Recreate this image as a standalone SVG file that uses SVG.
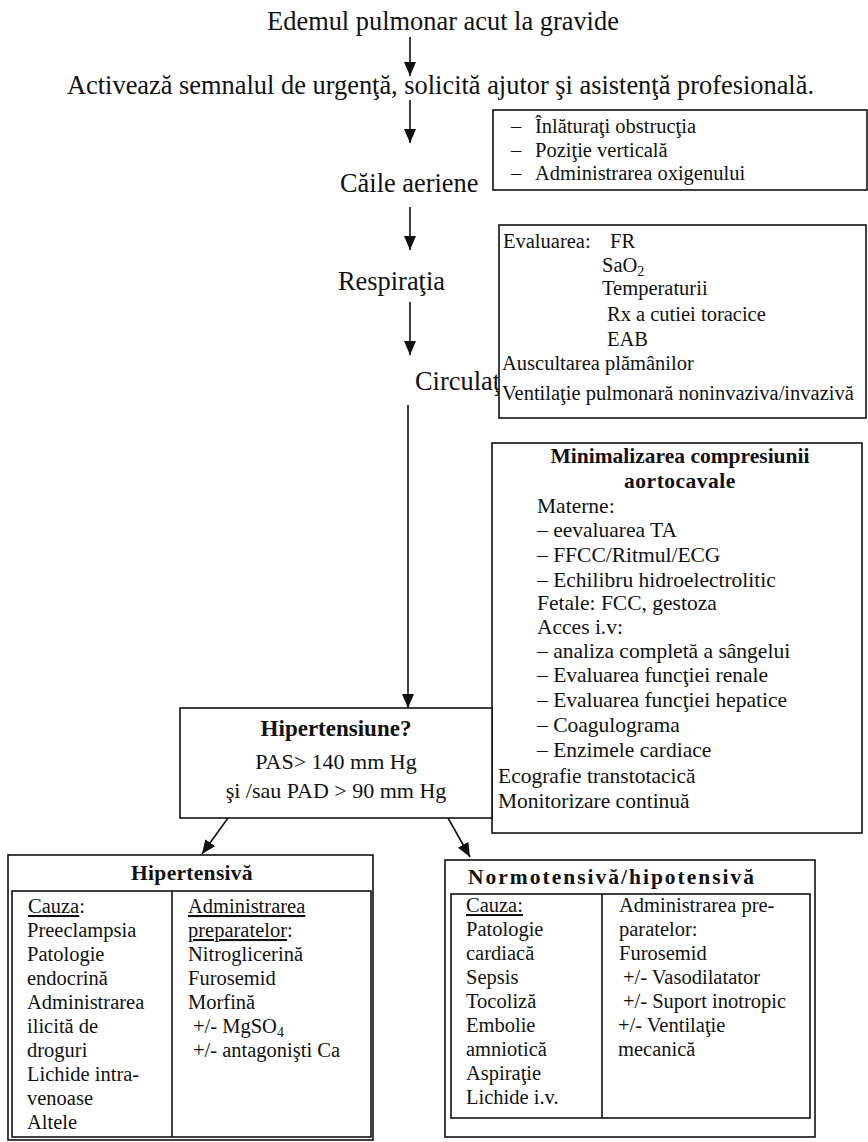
<svg xmlns="http://www.w3.org/2000/svg" width="868" height="1142" viewBox="0 0 868 1142">
<style>
text{font-family:"Liberation Serif","Times New Roman",serif;fill:#111}
.big{font-size:26.4px}
.t{font-size:20.5px}
.m{font-size:21.5px}
.b{font-weight:bold}
.box{fill:#fff;stroke:#111;stroke-width:1.6}
.ln{fill:none;stroke:#111;stroke-width:1.6}
.u{text-decoration:underline}
</style>
<defs>
<marker id="ah" viewBox="0 0 14 12" markerUnits="userSpaceOnUse" markerWidth="14" markerHeight="12" refX="14" refY="6" orient="auto">
<path d="M0,0 L14,6 L0,12 z" fill="#111"/>
</marker>
</defs>
<rect width="868" height="1142" fill="#fff"/>

<g id="connectors">
<line class="ln" x1="410" y1="37" x2="410" y2="76" marker-end="url(#ah)"/>
<line class="ln" x1="410" y1="100" x2="410" y2="143" marker-end="url(#ah)"/>
<line class="ln" x1="410" y1="207" x2="410" y2="250" marker-end="url(#ah)"/>
<line class="ln" x1="410" y1="302" x2="410" y2="355" marker-end="url(#ah)"/>
<line class="ln" x1="408" y1="405" x2="408" y2="708" marker-end="url(#ah)"/>
<line class="ln" x1="228" y1="818" x2="202" y2="854" marker-end="url(#ah)"/>
<line class="ln" x1="448" y1="818" x2="470" y2="857" marker-end="url(#ah)"/>
</g>

<g id="title"><text class="big" x="443" y="30" text-anchor="middle">Edemul pulmonar acut la gravide</text></g>
<g id="activeaza"><text class="big" x="67" y="94">Activează semnalul de urgenţă, solicită ajutor şi asistenţă profesională.</text></g>
<g id="caile"><text class="big" x="340" y="192">Căile aeriene</text></g>
<g id="respiratia"><text class="big" x="338" y="290">Respiraţia</text></g>
<g id="circulatia"><text class="big" x="415" y="390">Circulaţ</text></g>

<g id="box-caile">
<rect class="box" x="493" y="110" width="374" height="80"/>
<text class="t" x="511" y="133">–</text><text class="t" x="535" y="133">Înlăturaţi obstrucţia</text>
<text class="t" x="511" y="157">–</text><text class="t" x="535" y="157">Poziţie verticală</text>
<text class="t" x="511" y="180">–</text><text class="t" x="535" y="180">Administrarea oxigenului</text>
</g>

<g id="box-respiratia">
<rect class="box" x="499" y="225" width="367" height="193"/>
<text class="t" x="503" y="248">Evaluarea:</text><text class="t" x="610" y="248">FR</text>
<text class="t" x="602" y="272">SaO<tspan font-size="14" dy="4">2</tspan></text>
<text class="t" x="602" y="295">Temperaturii</text>
<text class="t" x="607" y="321">Rx a cutiei toracice</text>
<text class="t" x="607" y="346">EAB</text>
<text class="t" x="502" y="370">Auscultarea plămânilor</text>
<text class="t" x="502" y="400">Ventilaţie pulmonară noninvaziva/invazivă</text>
</g>

<g id="box-circulatia">
<rect class="box" x="492" y="443" width="370" height="390"/>
<text class="m b" x="680" y="463" text-anchor="middle">Minimalizarea compresiunii</text>
<text class="m b" x="680" y="488" text-anchor="middle" letter-spacing="0.5">aortocavale</text>
<text class="m" x="537" y="513">Materne:</text>
<text class="m" x="537" y="537">– eevaluarea TA</text>
<text class="m" x="537" y="562">– FFCC/Ritmul/ECG</text>
<text class="m" x="537" y="587">– Echilibru hidroelectrolitic</text>
<text class="m" x="537" y="610">Fetale: FCC, gestoza</text>
<text class="m" x="537" y="634">Acces i.v:</text>
<text class="m" x="537" y="658">– analiza completă a sângelui</text>
<text class="m" x="537" y="682">– Evaluarea funcţiei renale</text>
<text class="m" x="537" y="707">– Evaluarea funcţiei hepatice</text>
<text class="m" x="537" y="732">– Coagulograma</text>
<text class="m" x="537" y="757">– Enzimele cardiace</text>
<text class="m" x="498" y="783">Ecografie transtotacică</text>
<text class="m" x="498" y="808">Monitorizare continuă</text>
</g>

<g id="box-hipertensiune">
<rect class="box" x="180" y="708" width="312" height="110"/>
<text class="b" font-size="23" x="336" y="736" text-anchor="middle">Hipertensiune?</text>
<text font-size="22" x="336" y="769" text-anchor="middle">PAS&gt; 140 mm Hg</text>
<text font-size="22" x="336" y="798" text-anchor="middle">şi /sau PAD &gt; 90 mm Hg</text>
</g>

<g id="box-hipertensiva">
<rect class="box" x="8" y="855" width="365" height="285"/>
<rect class="box" x="12" y="891" width="359" height="246"/>
<line class="ln" x1="172" y1="891" x2="172" y2="1137"/>
<text class="m b" x="192" y="880" text-anchor="middle" letter-spacing="0.3">Hipertensivă</text>
<text class="t" x="28" y="913"><tspan class="u">Cauza</tspan>:</text>
<text class="t" x="27" y="937">Preeclampsia</text>
<text class="t" x="27" y="961">Patologie</text>
<text class="t" x="27" y="985">endocrină</text>
<text class="t" x="27" y="1009">Administrarea</text>
<text class="t" x="27" y="1033">ilicită de</text>
<text class="t" x="27" y="1057">droguri</text>
<text class="t" x="27" y="1081">Lichide intra-</text>
<text class="t" x="27" y="1105">venoase</text>
<text class="t" x="27" y="1129">Altele</text>
<text class="t" x="188" y="913"><tspan class="u">Administrarea</tspan></text>
<text class="t" x="188" y="937"><tspan class="u">preparatelor</tspan>:</text>
<text class="t" x="188" y="961">Nitroglicerină</text>
<text class="t" x="188" y="985">Furosemid</text>
<text class="t" x="188" y="1009">Morfină</text>
<text class="t" x="193" y="1033">+/- MgSO<tspan font-size="14" dy="4">4</tspan></text>
<text class="t" x="193" y="1057">+/- antagonişti Ca</text>
</g>

<g id="box-normotensiva">
<rect class="box" x="445" y="860" width="370" height="277"/>
<rect class="box" x="451" y="894" width="359" height="224"/>
<line class="ln" x1="602" y1="894" x2="602" y2="1118"/>
<text class="m b" x="468" y="884" letter-spacing="2">Normotensivă/hipotensivă</text>
<text class="t" x="466" y="912"><tspan class="u">Cauza:</tspan></text>
<text class="t" x="466" y="936">Patologie</text>
<text class="t" x="466" y="960">cardiacă</text>
<text class="t" x="466" y="984">Sepsis</text>
<text class="t" x="466" y="1008">Tocoliză</text>
<text class="t" x="466" y="1032">Embolie</text>
<text class="t" x="466" y="1056">amniotică</text>
<text class="t" x="466" y="1080">Aspiraţie</text>
<text class="t" x="466" y="1104">Lichide i.v.</text>
<text class="t" x="619" y="912">Administrarea pre-</text>
<text class="t" x="619" y="936">paratelor:</text>
<text class="t" x="619" y="960">Furosemid</text>
<text class="t" x="623" y="984">+/- Vasodilatator</text>
<text class="t" x="623" y="1008">+/- Suport inotropic</text>
<text class="t" x="618" y="1032">+/- Ventilaţie</text>
<text class="t" x="618" y="1056">mecanică</text>
</g>
</svg>
